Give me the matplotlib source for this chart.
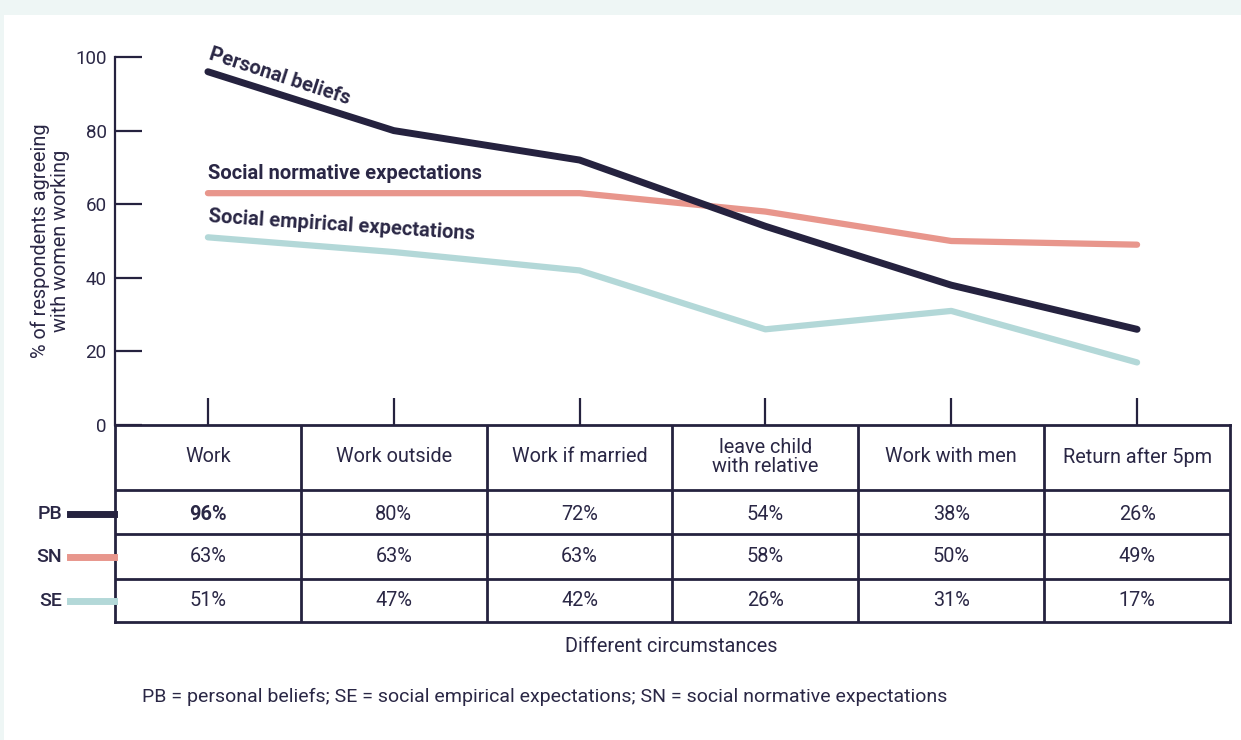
import matplotlib.pyplot as plt
from matplotlib.patches import Rectangle
from matplotlib.lines import Line2D

plt.rcParams['font.family'] = ['Roboto', 'DejaVu Sans']

# data
circumstances = ['Work', 'Work outside', 'Work if married',
                 'leave child\nwith relative', 'Work with men', 'Return after 5pm']
pb = [96, 80, 72, 54, 38, 26]
sn = [63, 63, 63, 58, 50, 49]
se = [51, 47, 42, 26, 31, 17]
row_names = ['PB', 'SN', 'SE']

navy = '#25223f'
salmon = '#e8968c'
teal = '#b3d8d8'
txt = '#2a2745'

W, H = 1241, 740
fig = plt.figure(figsize=(W / 100, H / 100), dpi=100, facecolor='#eef6f5')

def fx(px):
    return px / W

def fy(py):
    return 1 - py / H

# white panel
fig.patches.append(Rectangle((fx(4), 0), 1 - fx(4), fy(15), transform=fig.transFigure,
                             facecolor='white', edgecolor='none', zorder=-10))

# main line chart
ax = fig.add_axes([fx(115), fy(425), fx(1230) - fx(115), fy(57) - fy(425)])
ax.set_facecolor('none')
x = range(len(circumstances))
ax.plot(x, sn, color=salmon, lw=4.5, solid_capstyle='round', zorder=2)
ax.plot(x, se, color=teal, lw=4.5, solid_capstyle='round', zorder=2)
ax.plot(x, pb, color=navy, lw=5, solid_capstyle='round', zorder=3)
ax.set_xlim(-0.5, 5.5)
ax.set_ylim(0, 100)
for s in ['top', 'right', 'bottom']:
    ax.spines[s].set_visible(False)
ax.spines['left'].set_color(navy)
ax.spines['left'].set_linewidth(1.6)
ax.set_yticks([0, 20, 40, 60, 80, 100])
ax.tick_params(axis='y', direction='in', length=19.5, width=1.6, color=navy,
               labelsize=13.5, labelcolor=txt, pad=6)
ax.set_xticks(list(x))
ax.set_xticklabels([])
ax.tick_params(axis='x', direction='in', length=19.5, width=1.6, color=navy)

lab_fs = 14.5
ax.text(0.0, 99.4, 'Personal beliefs', rotation=-18, rotation_mode='anchor',
        ha='left', va='baseline', fontsize=lab_fs, fontweight='bold',
        color=txt, clip_on=False)
ax.text(0.0, 66.8, 'Social normative expectations', ha='left', va='baseline',
        fontsize=lab_fs, fontweight='bold', color=txt)
ax.text(0.0, 55.2, 'Social empirical expectations', rotation=-3.8, rotation_mode='anchor',
        ha='left', va='baseline', fontsize=lab_fs, fontweight='bold', color=txt)

fig.text(fx(50), fy(241), '% of respondents agreeing\nwith women working', rotation=90,
         ha='center', va='center', fontsize=14.3, color=txt, linespacing=1.05)

# table below
tab = fig.add_axes([fx(115), fy(622), fx(1230) - fx(115), fy(425) - fy(622)])
tab.set_facecolor('none')
tab.set_xlim(-0.5, 5.5)
tab.set_ylim(197, 0)
tab.set_xticks([])
tab.set_yticks([])
for s in tab.spines.values():
    s.set_color(navy)
    s.set_linewidth(2)
for b in [65, 109, 154]:
    tab.axhline(b, color=navy, lw=2)
for i in range(1, len(circumstances)):
    tab.axvline(i - 0.5, color=navy, lw=2)

cell_fs = 14.3
row_y = [89, 132, 176]
for i, name in enumerate(circumstances):
    tab.text(i, 32, name, ha='center', va='center', fontsize=cell_fs, color=txt,
             linespacing=1.05)
    for j, vals in enumerate([pb, sn, se]):
        w = 'bold' if (i == 0 and j == 0) else 'normal'
        tab.text(i, row_y[j], f'{vals[i]}%', ha='center', va='center', fontsize=cell_fs,
                 color=txt, fontweight=w)

for j, (name, c) in enumerate(zip(row_names, [navy, salmon, teal])):
    py = 425 + row_y[j]
    fig.text(fx(62), fy(py), name, ha='right', va='center', fontsize=14, color=txt,
             fontweight='medium')
    fig.lines.append(Line2D([fx(70), fx(114)], [fy(py), fy(py)], transform=fig.transFigure,
                            color=c, lw=5))

fig.text(fx(671), fy(646), 'Different circumstances', ha='center', va='center',
         fontsize=14.3, color=txt)
fig.text(fx(142), fy(697), 'PB = personal beliefs; SE = social empirical expectations; '
         'SN = social normative expectations', ha='left', va='center', fontsize=14, color=txt)

fig.savefig('out.png', dpi=100, facecolor=fig.get_facecolor())
